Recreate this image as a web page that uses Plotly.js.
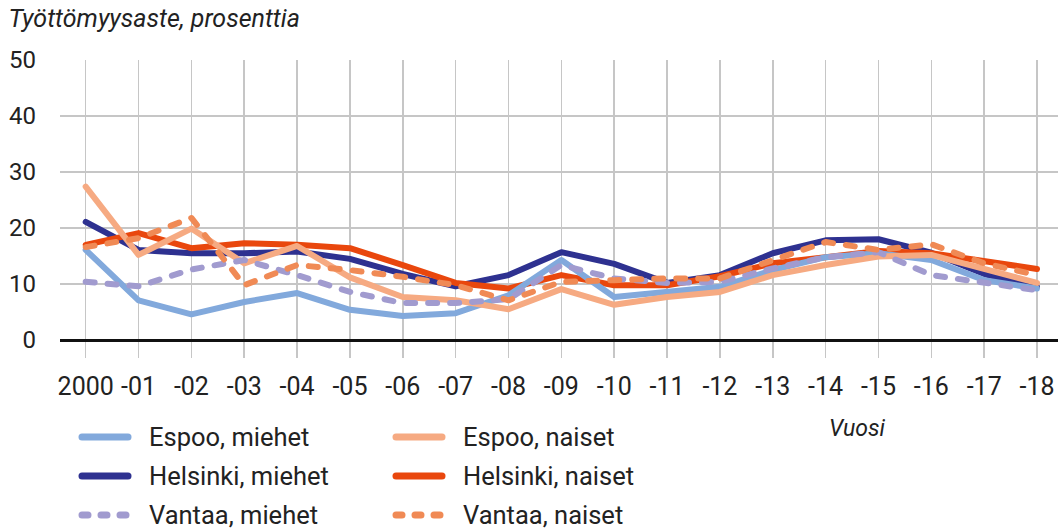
<!DOCTYPE html>
<html>
<head>
<meta charset="utf-8">
<script src="https://cdn.plot.ly/plotly-3.0.1.min.js"></script>
<style>
  html, body { margin: 0; padding: 0; background: #fff; }
  #chart { width: 1058px; height: 530px; }
  .scatterlayer path.js-line { stroke-linecap: round; stroke-linejoin: round; }
  .shapelayer path { stroke-linecap: round; }
</style>
</head>
<body>
<div id="chart"></div>
<script>
const years = [2000,2001,2002,2003,2004,2005,2006,2007,2008,2009,2010,2011,2012,2013,2014,2015,2016,2017,2018];
const tickLabels = ["2000","-01","-02","-03","-04","-05","-06","-07","-08","-09","-10","-11","-12","-13","-14","-15","-16","-17","-18"];
const espooMiehet    = [16.1, 7.1, 4.6, 6.8, 8.4, 5.4, 4.3, 4.8, 8.0, 14.3, 7.7, 8.6, 9.5, 12.5, 14.8, 15.5, 14.3, 10.7, 9.2];
const espooNaiset    = [27.4, 15.2, 19.9, 13.7, 16.8, 11.2, 7.7, 7.1, 5.5, 9.1, 6.3, 7.7, 8.6, 11.6, 13.4, 14.9, 15.2, 12.8, 10.2];
const helsinkiMiehet = [21.1, 16.1, 15.5, 15.5, 15.8, 14.5, 11.8, 9.6, 11.6, 15.7, 13.6, 10.2, 11.6, 15.5, 17.8, 18.0, 15.6, 11.8, 9.5];
const helsinkiNaiset = [17.0, 19.1, 16.4, 17.3, 17.0, 16.4, 13.4, 10.2, 9.2, 11.6, 9.8, 9.8, 11.4, 13.7, 14.8, 15.9, 15.5, 14.0, 12.7];
const vantaaMiehet   = [10.4, 9.6, 12.6, 14.3, 11.6, 8.6, 6.6, 6.6, 7.3, 13.4, 11.0, 10.2, 10.4, 12.8, 14.8, 15.7, 11.6, 10.2, 8.9];
const vantaaNaiset   = [16.6, 18.2, 21.8, 9.8, 13.4, 12.5, 11.3, 9.8, 7.1, 10.4, 10.7, 11.0, 11.0, 14.3, 17.5, 16.1, 17.1, 13.7, 11.6];
const seriesNames = ["Espoo, miehet","Espoo, naiset","Helsinki, miehet","Helsinki, naiset","Vantaa, miehet","Vantaa, naiset"];
const yTicks = [0,10,20,30,40,50];

const colors = {
  espooM: "#82a9dc", espooN: "#f6aa82", helsM: "#2e3190",
  helsN: "#e9470d", vantM: "#a19bcf", vantN: "#f08a55"
};
const FONT = "Roboto, 'Liberation Sans', sans-serif";
const LW = 6;
const DASH = "9px,13px";

function tr(y, name, color, dashed) {
  return { x: years, y: y, name: name, type: "scatter", mode: "lines",
    line: { color: color, width: LW, dash: dashed ? DASH : "solid" },
    showlegend: false, hoverinfo: "skip" };
}
const data = [
  tr(helsinkiMiehet, seriesNames[2], colors.helsM, false),
  tr(helsinkiNaiset, seriesNames[3], colors.helsN, false),
  tr(espooMiehet, seriesNames[0], colors.espooM, false),
  tr(espooNaiset, seriesNames[1], colors.espooN, false),
  tr(vantaaMiehet, seriesNames[4], colors.vantM, true),
  tr(vantaaNaiset, seriesNames[5], colors.vantN, true)
];

// plot area in pixels: left 60, right 1058, top 60, bottom 358
const L = 60, R = 1058, T = 60, B = 358;
const px = v => (v - L) / (R - L);
const py = v => (B - v) / (B - T);

// custom legend (2 columns x 3 rows)
const legendItems = [
  [seriesNames[0], colors.espooM, false, 0, 0],
  [seriesNames[1], colors.espooN, false, 1, 0],
  [seriesNames[2], colors.helsM, false, 0, 1],
  [seriesNames[3], colors.helsN, false, 1, 1],
  [seriesNames[4], colors.vantM, true, 0, 2],
  [seriesNames[5], colors.vantN, true, 1, 2]
];
const colX = [79, 393], rowY = [437, 476, 515];
const shapes = [], annotations = [];
legendItems.forEach(([name, color, dashed, c, r]) => {
  const x0 = colX[c] + 3, x1 = colX[c] + 49, yy = rowY[r];
  shapes.push({ type: "line", xref: "paper", yref: "paper",
    x0: px(x0), x1: px(x1), y0: py(yy), y1: py(yy),
    line: { color: color, width: 7, dash: dashed ? "6px,13px" : "solid" } });
  annotations.push({ xref: "paper", yref: "paper", x: px(colX[c] + 68), y: py(yy),
    xanchor: "left", yanchor: "middle", showarrow: false, text: name,
    font: { family: FONT, size: 25.5, color: "#222" } });
});
annotations.push({ xref: "paper", yref: "paper", x: px(857), y: py(428),
  xanchor: "center", yanchor: "middle", showarrow: false, text: "Vuosi",
  font: { family: FONT, size: 23, color: "#222", style: "italic" } });

const layout = {
  width: 1058, height: 530,
  margin: { l: L, r: 1058 - R, t: T, b: 530 - B, pad: 0 },
  paper_bgcolor: "#fff", plot_bgcolor: "#fff",
  showlegend: false,
  title: { text: "Työttömyysaste, prosenttia", x: 0.008, xanchor: "left",
    y: 1 - 18 / 530, yanchor: "middle",
    font: { family: FONT, size: 25, color: "#222", style: "italic" } },
  xaxis: {
    range: [1999.514, 2018.397], tickvals: years, ticktext: tickLabels,
    showgrid: true, gridcolor: "#c6c6c6", gridwidth: 1.5,
    zeroline: false, showline: false, ticks: "",
    ticklabelstandoff: 11,
    tickfont: { family: FONT, size: 25, color: "#222" }
  },
  yaxis: {
    range: [-3.2, 50], tickvals: yTicks,
    showgrid: true, gridcolor: "#c6c6c6", gridwidth: 1.5,
    zeroline: true, zerolinecolor: "#111", zerolinewidth: 3,
    showline: false, ticks: "", ticklabelstandoff: 23,
    tickfont: { family: FONT, size: 24, color: "#222" }
  },
  shapes: shapes, annotations: annotations
};
Plotly.newPlot("chart", data, layout, { staticPlot: true, displayModeBar: false });
</script>
</body>
</html>
